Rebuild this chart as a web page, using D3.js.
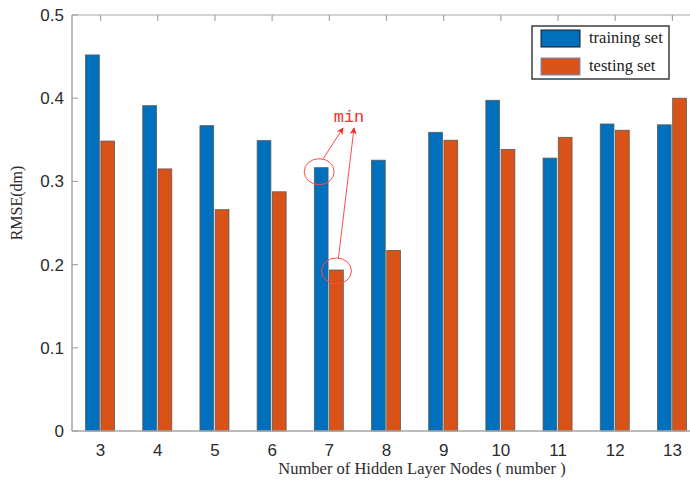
<!DOCTYPE html>
<html>
<head>
<meta charset="utf-8">
<script src="https://cdn.jsdelivr.net/npm/d3@7"></script>
<style>
  html, body { margin: 0; padding: 0; background: #fff; }
  svg { display: block; }
</style>
</head>
<body>
<svg id="chart" width="690" height="486"></svg>
<script>
// Hidden layer node counts on the x axis
const nodes = ["3", "4", "5", "6", "7", "8", "9", "10", "11", "12", "13"];
// RMSE (dm) per node count
const trainingRMSE = [0.452, 0.391, 0.367, 0.349, 0.3165, 0.3255, 0.359, 0.3975, 0.328, 0.369, 0.368];
const testingRMSE  = [0.3485, 0.315, 0.266, 0.2875, 0.1935, 0.217, 0.3495, 0.3385, 0.353, 0.3615, 0.400];
const seriesNames = ["training set", "testing set"];
const yTicks = [0, 0.1, 0.2, 0.3, 0.4, 0.5];

const colors = { "training set": "#0070BD", "testing set": "#D95319" };

const svg = d3.select("#chart");
const W = 690, H = 486;
const plotLeft = 72, plotTop = 15, plotBottom = 431, bandEnd = 701;

const x = d3.scaleBand().domain(nodes).range([plotLeft, bandEnd]).padding(0);
const xSub = d3.scaleBand().domain(seriesNames).range([-15, 14]).paddingInner(0.1);
const y = d3.scaleLinear().domain([0, 0.5]).range([plotBottom, plotTop]);

const rows = nodes.map((n, i) => ({ node: n, values: [
  { series: "training set", v: trainingRMSE[i] },
  { series: "testing set", v: testingRMSE[i] }
]}));

// Bars
const groups = svg.append("g").selectAll("g").data(rows).join("g")
  .attr("transform", d => `translate(${x(d.node) + x.bandwidth() / 2},0)`);
groups.selectAll("rect").data(d => d.values).join("rect")
  .attr("x", d => xSub(d.series))
  .attr("width", xSub.bandwidth())
  .attr("y", d => y(d.v))
  .attr("height", d => y(0) - y(d.v))
  .attr("fill", d => colors[d.series])
  .attr("stroke", "#5a5a5a")
  .attr("stroke-width", 0.8);

// Axes frame
const axisColor = "#a6a6a6";
svg.append("line").attr("x1", plotLeft).attr("x2", W).attr("y1", plotBottom).attr("y2", plotBottom)
  .attr("stroke", axisColor).attr("stroke-width", 1.5);
svg.append("line").attr("x1", plotLeft).attr("x2", W).attr("y1", plotTop).attr("y2", plotTop)
  .attr("stroke", axisColor).attr("stroke-width", 1.2);
svg.append("line").attr("x1", plotLeft).attr("x2", plotLeft).attr("y1", plotTop).attr("y2", plotBottom)
  .attr("stroke", axisColor).attr("stroke-width", 1.5);

// Y axis ticks and labels
const yAxis = d3.axisLeft(y).tickValues(yTicks).tickSize(0).tickPadding(8)
  .tickFormat(d => d === 0 ? "0" : d3.format(".1f")(d));
const gy = svg.append("g").attr("transform", `translate(${plotLeft},0)`).call(yAxis);
gy.select(".domain").remove();
gy.selectAll("text").attr("font-family", "'Liberation Sans', Arial, sans-serif")
  .attr("font-size", 17).attr("fill", "#2b2b2b");
svg.append("g").selectAll("line").data(yTicks).join("line")
  .attr("x1", plotLeft).attr("x2", plotLeft + 6)
  .attr("y1", d => y(d)).attr("y2", d => y(d))
  .attr("stroke", axisColor).attr("stroke-width", 1.2);

// X axis labels
const xAxis = d3.axisBottom(x).tickSize(0).tickPadding(13);
const gx = svg.append("g").attr("transform", `translate(0,${plotBottom})`).call(xAxis);
gx.select(".domain").remove();
gx.selectAll("text").attr("font-family", "'Liberation Sans', Arial, sans-serif")
  .attr("font-size", 17).attr("fill", "#2b2b2b");

// Top edge ticks
svg.append("g").selectAll("line").data(nodes).join("line")
  .attr("x1", d => x(d) + x.bandwidth() / 2).attr("x2", d => x(d) + x.bandwidth() / 2)
  .attr("y1", plotTop).attr("y2", plotTop + 6)
  .attr("stroke", axisColor).attr("stroke-width", 1.2);

// Axis titles
svg.append("text")
  .attr("x", 422).attr("y", 474)
  .attr("text-anchor", "middle")
  .attr("font-family", "'Liberation Serif', 'Times New Roman', serif")
  .attr("font-size", 16.5).attr("fill", "#2b2b2b")
  .text("Number of Hidden Layer Nodes ( number )");
svg.append("text")
  .attr("transform", "translate(22,203) rotate(-90)")
  .attr("text-anchor", "middle")
  .attr("font-family", "'Liberation Serif', 'Times New Roman', serif")
  .attr("font-size", 16).attr("fill", "#2b2b2b")
  .text("RMSE(dm)");

// Legend
const legend = svg.append("g");
legend.append("rect").attr("x", 532).attr("y", 26).attr("width", 137).attr("height", 53)
  .attr("fill", "#fff").attr("stroke", "#3c3c3c").attr("stroke-width", 1.5);
seriesNames.forEach((s, i) => {
  const yy = 30 + i * 28;
  legend.append("rect").attr("x", 541).attr("y", yy).attr("width", 39).attr("height", 17)
    .attr("fill", colors[s]).attr("stroke", i === 0 ? "#1a1a1a" : "#6b8fd6").attr("stroke-width", 1);
  legend.append("text").attr("x", 589).attr("y", yy + 13)
    .attr("font-family", "'Liberation Serif', 'Times New Roman', serif")
    .attr("font-size", 16.5).attr("fill", "#1a1a1a")
    .text(s);
});

// Minimum annotation on the 7-node bars
const minIdx = nodes.indexOf("7");
const cx7 = x("7") + x.bandwidth() / 2;
const trainTop = [cx7 + xSub("training set") + xSub.bandwidth() / 2, y(trainingRMSE[minIdx])];
const testTop = [cx7 + xSub("testing set") + xSub.bandwidth() / 2, y(testingRMSE[minIdx])];
const red = "#ff4a4a";

const defs = svg.append("defs");
defs.append("marker").attr("id", "arrow").attr("viewBox", "0 0 10 10")
  .attr("refX", 9).attr("refY", 5).attr("markerWidth", 7).attr("markerHeight", 9)
  .attr("orient", "auto-start-reverse")
  .append("path").attr("d", "M0,0 L10,5 L0,10 L3,5 Z").attr("fill", "#ff2020");

const ann = svg.append("g");
ann.append("ellipse").attr("cx", trainTop[0] - 2).attr("cy", trainTop[1] + 4)
  .attr("rx", 15).attr("ry", 13).attr("fill", "none").attr("stroke", red).attr("stroke-width", 1);
ann.append("ellipse").attr("cx", testTop[0]).attr("cy", testTop[1] + 1)
  .attr("rx", 15).attr("ry", 13).attr("fill", "none").attr("stroke", red).attr("stroke-width", 1);
ann.append("line").attr("x1", trainTop[0] + 2).attr("y1", trainTop[1] - 9)
  .attr("x2", 343).attr("y2", 128)
  .attr("stroke", red).attr("stroke-width", 1).attr("marker-end", "url(#arrow)");
ann.append("line").attr("x1", testTop[0] + 2).attr("y1", testTop[1] - 12)
  .attr("x2", 354).attr("y2", 128)
  .attr("stroke", red).attr("stroke-width", 1).attr("marker-end", "url(#arrow)");
ann.append("text").attr("x", 349).attr("y", 122).attr("text-anchor", "middle")
  .attr("font-family", "'Liberation Mono', 'Courier New', monospace")
  .attr("font-size", 17).attr("fill", "#ff2a2a")
  .text("min");
</script>
</body>
</html>
